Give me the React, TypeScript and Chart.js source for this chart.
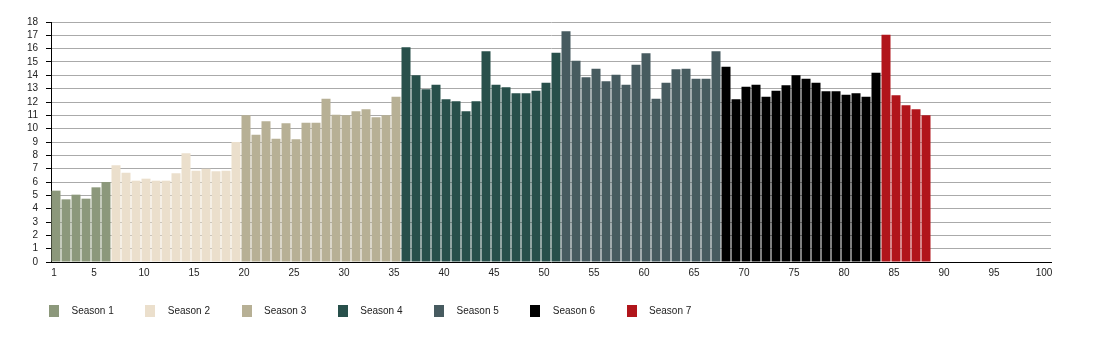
import React, { useEffect, useRef } from "react";
import { Chart, registerables } from "chart.js";

Chart.register(...registerables);

const seasonNames = ["Season 1", "Season 2", "Season 3", "Season 4", "Season 5", "Season 6", "Season 7"];
const seasonColors = ["#8c987b", "#ebdfcc", "#b7b095", "#28504b", "#475b60", "#000000", "#b1151b"];

const season1 = [5.35, 4.7, 5.05, 4.75, 5.6, 6.0];
const season2 = [7.25, 6.7, 6.1, 6.25, 6.1, 6.1, 6.65, 8.15, 6.85, 7.0, 6.8, 6.85, 9.0];
const season3 = [11.0, 9.55, 10.55, 9.25, 10.4, 9.2, 10.45, 10.45, 12.25, 11.05, 11.0, 11.3, 11.45, 10.85, 11.0, 12.4];
const season4 = [16.1, 14.0, 12.95, 13.3, 12.2, 12.05, 11.3, 12.05, 15.8, 13.3, 13.1, 12.65, 12.65, 12.85, 13.45, 15.7];
const season5 = [17.3, 15.1, 13.85, 14.5, 13.55, 14.05, 13.3, 14.8, 15.65, 12.25, 13.45, 14.45, 14.5, 13.75, 13.75, 15.8];
const season6 = [14.65, 12.2, 13.15, 13.3, 12.4, 12.85, 13.25, 14.0, 13.75, 13.45, 12.8, 12.8, 12.55, 12.65, 12.4, 14.2];
const season7 = [17.05, 12.5, 11.75, 11.45, 11.0];

const seasonValues = [season1, season2, season3, season4, season5, season6, season7];

const episodeLabels: string[] = [];
for (let i = 1; i <= 100; i++) episodeLabels.push(String(i));

const yTicksMax = 18;

export default function App() {
  const ref = useRef<HTMLCanvasElement | null>(null);

  useEffect(() => {
    if (!ref.current) return;
    Chart.defaults.font.family = "'Liberation Sans', Arial, sans-serif";
    Chart.defaults.font.size = 10;
    Chart.defaults.color = "#222";

    let offset = 0;
    const datasets = seasonValues.map((vals, s) => {
      const data: (number | null)[] = episodeLabels.map(() => null);
      vals.forEach((v, i) => {
        data[offset + i] = v;
      });
      offset += vals.length;
      return {
        label: seasonNames[s],
        data,
        backgroundColor: seasonColors[s],
        borderWidth: 0,
        grouped: false,
        barPercentage: 0.9,
        categoryPercentage: 1.0,
      };
    });

    const swatches = seasonColors.map((c) => {
      const cv = document.createElement("canvas");
      cv.width = 10;
      cv.height = 12;
      const cx = cv.getContext("2d")!;
      cx.fillStyle = c;
      cx.fillRect(0, 0, 10, 12);
      return cv;
    });

    const chart = new Chart(ref.current, {
      type: "bar",
      data: { labels: episodeLabels, datasets },
      options: {
        animation: false,
        responsive: true,
        maintainAspectRatio: false,
        layout: { padding: { left: 9.5, right: 53, top: 14, bottom: 8 } },
        plugins: {
          tooltip: { enabled: false },
          legend: {
            position: "bottom",
            align: "start",
            labels: {
              usePointStyle: true,
              pointStyleWidth: 25,
              padding: 24,
              color: "#222",
              font: { size: 10 },
              generateLabels: (c: any) => {
                const items = Chart.defaults.plugins.legend.labels.generateLabels(c);
                return items.map((it: any, i: number) => ({ ...it, pointStyle: swatches[i] }));
              },
            },
          },
        },
        scales: {
          x: {
            type: "category",
            grid: { display: false, drawTicks: false },
            border: { display: true, color: "#000", width: 1 },
            afterFit: (s: any) => {
              s.height = 20;
            },
            ticks: {
              autoSkip: false,
              maxRotation: 0,
              padding: 5,
              labelOffset: -2,
              color: "#222",
              callback: (_v: any, idx: number) =>
                idx === 0 || (idx + 1) % 5 === 0 ? episodeLabels[idx] : null,
            },
          },
          y: {
            min: 0,
            max: yTicksMax,
            afterFit: (s: any) => {
              s.width = 33.5;
            },
            grid: { color: "#aaaaaa", tickColor: "#000", tickLength: 5, lineWidth: 1 },
            border: { display: true, color: "#000", width: 1 },
            ticks: { stepSize: 1, autoSkip: false, padding: 8, color: "#222" },
          },
        },
      },
    });
    return () => chart.destroy();
  }, []);

  return (
    <div style={{ position: "relative", width: "100%", height: 326 }}>
      <canvas ref={ref} />
    </div>
  );
}
